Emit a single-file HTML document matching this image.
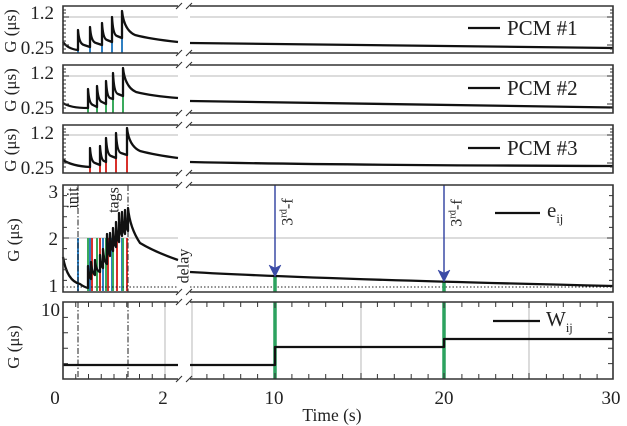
<!DOCTYPE html>
<html><head><meta charset="utf-8"><style>
html,body{margin:0;padding:0;background:#fff}
svg{display:block;font-family:"Liberation Serif",serif}
</style></head><body>
<svg width="627" height="426" viewBox="0 0 627 426" xmlns="http://www.w3.org/2000/svg">
<rect width="627" height="426" fill="#fff"/>
<!-- grid lines -->
<g stroke="#c8c8c8" stroke-width="1.3" fill="none">
<path d="M63,17H178M190,17H613"/>
<path d="M63,76H178M190,76H613"/>
<path d="M63,135H178M190,135H613"/>
<path d="M63,238H178M190,238H613"/>
<path d="M165,302V379M192,302V379M361,302V379M529,302V379"/>
</g>
<!-- colored pulse lines -->
<g stroke-width="2" fill="none">
<path stroke="#2f7fc1" d="M78,53V30M90,53V30M102,53V30M112,53V30M122,53V30"/>
<path stroke="#3aaa5c" d="M88,113V89M97,113V89M106,113V89M113,113V89M123,113V89"/>
<path stroke="#d8302b" d="M90,173V148M100,173V148M106,173V148M116,173V148M127,173V148"/>
<path stroke="#2f7fc1" d="M78,291V238M90,291V238M103,291V238M112,291V238M122,291V238"/>
<path stroke="#3aaa5c" d="M88,291V238M97,291V238M106,291V238M113,291V238M123,291V238"/>
<path stroke="#d8302b" d="M92,291V238M100,291V238M108,291V238M117,291V238M127,291V238"/>
</g>
<!-- dotted line -->
<path d="M63,287H178M190,287H613" stroke="#222" stroke-width="1" stroke-dasharray="1.5,2" fill="none"/>
<!-- dash-dot lines -->
<path d="M78,185V292M128,185V292M78,302V379M128,302V379" stroke="#222" stroke-width="1" stroke-dasharray="6,2,1.5,2" fill="none"/>
<!-- green marks -->
<g stroke="#2ca25f" stroke-width="3.5" fill="none">
<path d="M275,277V292M444,282V292M275,302V379M444,302V379"/>
</g>
<!-- curves -->
<g stroke="#111" stroke-width="2.3" fill="none" stroke-linejoin="round">
<path d="M63,42 Q68,49 78,50 L78,30 Q79,44 84,45 L90,47 L90,27 Q91,42 96,43 L102,45 L102,23 Q103,39 107,40 L112,42 L112,17 Q113,35 117,36 L122,38 L122,11 Q124,30 135,35 Q150,39 178,42"/>
<path d="M63,103 Q70,108 88,108 L88,89 Q89,104 93,105 L97,107 L97,86 Q98,101 102,102 L106,104 L106,81 Q107,97 110,98 L113,99 L113,73 Q114,93 118,94 L123,96 L123,68 Q125,87 136,92 Q152,96 178,98"/>
<path d="M63,160 Q72,166 90,167 L90,148 Q91,162 95,163 L100,165 L100,146 Q101,160 104,161 L106,162 L106,138 Q107,155 111,156 L116,158 L116,133 Q117,152 121,153 L127,155 L127,128 Q129,146 140,151 Q155,155 178,158"/>
<path d="M190,43 C300,45.5 450,47 613,48"/>
<path d="M190,101 C300,104 450,106 613,107.5"/>
<path d="M190,162 C300,164.5 450,165.5 613,166"/>
<path d="M63,257 Q67,281 80,284 Q84,287 88,288 L88,266 Q89,278 91,279 L91,262 Q92,273 95,275 L95,260 Q96,271 100,272 L100,255 Q101,267 103,268 L103,249 Q104,262 107,264 L107,234 Q108,252 110,256 L110,233 Q111,248 113,251 L113,228 Q114,244 116,247 L116,222 Q117,239 119,242 L119,213 Q120,232 122,236 L122,212 Q123,230 125,234 L125,210 Q126,228 128,231 L128,208 Q130,228 140,243 Q155,252 178,260"/>
<path d="M190,272 C260,276 400,281 613,286"/>
<path d="M63,365H178M190,365H275V347H444V339H613"/>
</g>
<!-- arrows -->
<g stroke="#3b4ba6" stroke-width="1.5" fill="#3b4ba6">
<path d="M275,185V268" fill="none"/>
<path d="M269,265 L275,277 L281,265 L275,268 Z" stroke-width="0.5"/>
<path d="M444,185V273" fill="none"/>
<path d="M438,270 L444,282 L450,270 L444,273 Z" stroke-width="0.5"/>
</g>
<!-- frames -->
<g stroke="#333" stroke-width="1.6" fill="none">
<path d="M178,6H63V53H178M190,6H613V53H190"/>
<path d="M178,65H63V113H178M190,65H613V113H190"/>
<path d="M178,125H63V173H178M190,125H613V173H190"/>
<path d="M178,185H63V292H178M190,185H613V292H190"/>
<path d="M178,302H63V379H178M190,302H613V379H190"/>
</g>
<!-- break marks -->
<g stroke="#333" stroke-width="1.1" fill="none">
<path d="M176,9L182,3M186,9L192,3M176,56L182,50M186,56L192,50"/>
<path d="M176,68L182,62M186,68L192,62M176,116L182,110M186,116L192,110"/>
<path d="M176,128L182,122M186,128L192,122M176,176L182,170M186,176L192,170"/>
<path d="M176,188L182,182M186,188L192,182M176,295L182,289M186,295L192,289"/>
<path d="M176,305L182,299M186,305L192,299M176,382L182,376M186,382L192,376"/>
</g>
<!-- ticks -->
<g stroke="#333" stroke-width="1" fill="none">
<path d="M63,10h3M63,13h3M63,17h6M63,21h3M63,25h3M63,29h3M63,33h3M63,37h3M63,41h3M63,45h6M63,49h3"/>
<path d="M63,69h3M63,72h3M63,76h6M63,80h3M63,84h3M63,88h3M63,92h3M63,96h3M63,100h3M63,104h6M63,108h3"/>
<path d="M63,129h3M63,132h3M63,135h6M63,139h3M63,143h3M63,147h3M63,151h3M63,155h3M63,159h3M63,163h6M63,167h3"/>
<path d="M613,10h-3M613,13h-3M613,17h-6M613,21h-3M613,25h-3M613,29h-3M613,33h-3M613,37h-3M613,41h-3M613,45h-6M613,49h-3"/>
<path d="M613,69h-3M613,72h-3M613,76h-6M613,80h-3M613,84h-3M613,88h-3M613,92h-3M613,96h-3M613,100h-3M613,104h-6M613,108h-3"/>
<path d="M613,129h-3M613,132h-3M613,135h-6M613,139h-3M613,143h-3M613,147h-3M613,151h-3M613,155h-3M613,159h-3M613,163h-6M613,167h-3"/>
<path d="M613,195.6h-4M613,206.2h-4M613,216.8h-4M613,227.4h-4M613,238h-6M613,248.6h-4M613,259.2h-4M613,269.8h-4M613,280.4h-4"/>
<path d="M63,195.6h4M63,206.2h4M63,216.8h4M63,227.4h4M63,238h6M63,248.6h4M63,259.2h4M63,269.8h4M63,280.4h4"/>
<path d="M63,317.4h5M63,332.8h5M63,348.2h5M63,363.6h5M613,317.4h-5M613,332.8h-5M613,348.2h-5M613,363.6h-5"/>
<path d="M75.75,302v5M88.5,302v5M101.25,302v5M114,302v5M126.75,302v5M139.5,302v5M152.25,302v5M165,302v5
M75.75,379v-5M88.5,379v-5M101.25,379v-5M114,379v-5M126.75,379v-5M139.5,379v-5M152.25,379v-5M165,379v-5"/>
<path d="M206.9,302v5M223.8,302v5M240.7,302v5M257.6,302v5M275,302v6M291.9,302v5M308.8,302v5M325.7,302v5M342.6,302v5M361,302v6M377.4,302v5M394.3,302v5M411.2,302v5M428.1,302v5M444,302v6M461.9,302v5M478.8,302v5M495.7,302v5M512.6,302v5M529,302v6M546.4,302v5M563.3,302v5M580.2,302v5M597.1,302v5
M206.9,379v-5M223.8,379v-5M240.7,379v-5M257.6,379v-5M275,379v-6M291.9,379v-5M308.8,379v-5M325.7,379v-5M342.6,379v-5M361,379v-6M377.4,379v-5M394.3,379v-5M411.2,379v-5M428.1,379v-5M444,379v-6M461.9,379v-5M478.8,379v-5M495.7,379v-5M512.6,379v-5M529,379v-6M546.4,379v-5M563.3,379v-5M580.2,379v-5M597.1,379v-5"/>
</g>
<!-- legend lines -->
<g stroke="#111" stroke-width="2.3">
<path d="M468,28H500M468,88H500M468,148H500M495,213H540M493,321H540"/>
</g>
<!-- text -->
<g fill="#222" font-size="19">
<text x="54" y="19" text-anchor="end">1.2</text>
<text x="54" y="54" text-anchor="end">0.25</text>
<text x="54" y="79" text-anchor="end">1.2</text>
<text x="54" y="114" text-anchor="end">0.25</text>
<text x="54" y="139" text-anchor="end">1.2</text>
<text x="54" y="174" text-anchor="end">0.25</text>
<text x="58" y="198" text-anchor="end">3</text>
<text x="58" y="245" text-anchor="end">2</text>
<text x="58" y="292" text-anchor="end">1</text>
<text x="60" y="316" text-anchor="end">10</text>
<text x="55" y="404" text-anchor="middle">0</text>
<text x="163" y="404" text-anchor="middle">2</text>
<text x="274" y="404" text-anchor="middle">10</text>
<text x="444" y="404" text-anchor="middle">20</text>
<text x="611" y="404" text-anchor="middle">30</text>
<text x="332" y="421" text-anchor="middle" font-size="17.5">Time (s)</text>
</g>
<g fill="#222" font-size="17" text-anchor="middle">
<text transform="translate(10,31) rotate(-90)" dy="0.35em">G (μs)</text>
<text transform="translate(10,90) rotate(-90)" dy="0.35em">G (μs)</text>
<text transform="translate(10,150) rotate(-90)" dy="0.35em">G (μs)</text>
<text transform="translate(13,240) rotate(-90)" dy="0.35em">G (μs)</text>
<text transform="translate(13,347) rotate(-90)" dy="0.35em">G (μs)</text>
</g>
<g fill="#222" font-size="16" text-anchor="middle">
<text transform="translate(72,198) rotate(-90)" dy="0.35em">init</text>
<text transform="translate(113,200) rotate(-90)" dy="0.35em">tags</text>
<text transform="translate(183,266) rotate(-90)" dy="0.35em">delay</text>
<text transform="translate(287,212) rotate(-90)" dy="0.35em">3<tspan font-size="10.5" dy="-6">rd</tspan><tspan dy="6">-f</tspan></text>
<text transform="translate(456,213) rotate(-90)" dy="0.35em">3<tspan font-size="10.5" dy="-6">rd</tspan><tspan dy="6">-f</tspan></text>
</g>
<g fill="#222" font-size="21">
<text x="507" y="35">PCM #1</text>
<text x="507" y="95">PCM #2</text>
<text x="507" y="155">PCM #3</text>
<text x="547" y="217">e<tspan font-size="12.5" dy="6">ij</tspan></text>
<text x="546" y="326">W<tspan font-size="12.5" dy="6">ij</tspan></text>
</g>
</svg>
</body></html>
